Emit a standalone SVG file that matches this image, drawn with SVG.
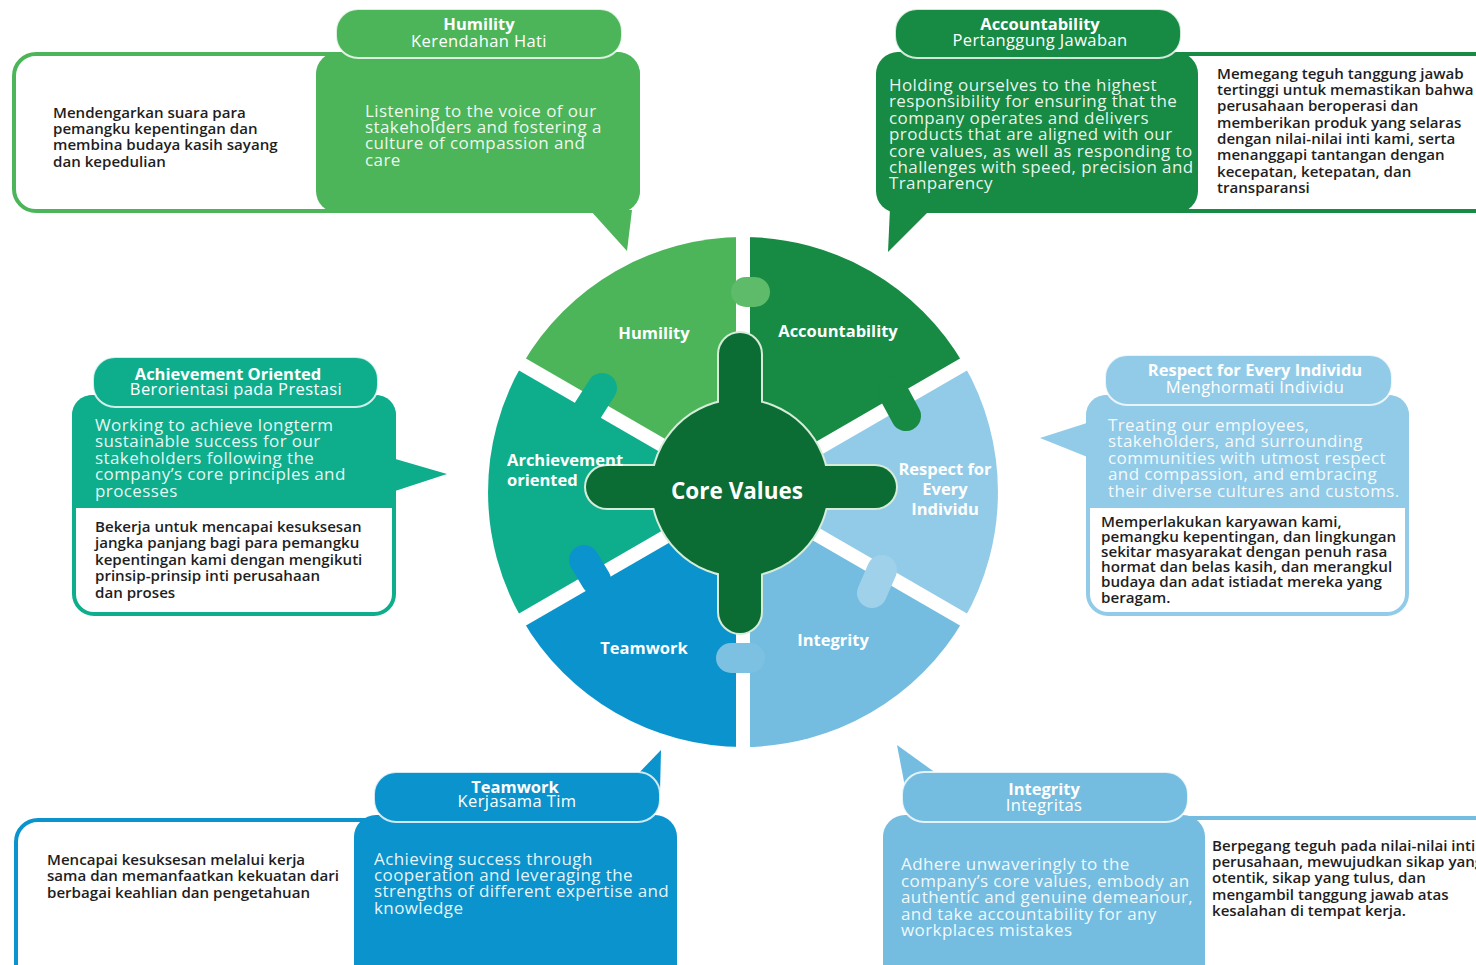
<svg xmlns="http://www.w3.org/2000/svg" width="1476" height="965" viewBox="0 0 1476 965">
<style>
.en{font-family:"Open Sans",sans-serif;font-size:17px;letter-spacing:0.4px;fill:#ffffff;fill-opacity:0.92}
.id{font-family:"Open Sans",sans-serif;font-size:15.1px;font-weight:600;fill:#1e1e1e}
.t1{font-family:"Open Sans",sans-serif;font-size:16.5px;font-weight:700;fill:#ffffff;text-anchor:middle}
.t2{font-family:"Open Sans",sans-serif;font-size:16.5px;letter-spacing:0.4px;fill:#ffffff;text-anchor:middle}
.seg{font-family:"Open Sans",sans-serif;font-size:16.5px;font-weight:700;fill:#ffffff}
.tab{stroke:#ffffff;stroke-width:2;stroke-opacity:0.8}
.gap{stroke:#ffffff;stroke-width:14}
.tb{stroke-width:30;stroke-linecap:round;fill:none}
</style>

<!-- Wheel -->
<g id="wheel">
  <g id="seg-accountability"><path d="M743 492 L743 237 A255 255 0 0 1 963.8 364.5 Z" fill="#178a43"/></g>
  <g id="seg-respect"><path d="M743 492 L963.8 364.5 A255 255 0 0 1 963.8 619.5 Z" fill="#92cbe8"/></g>
  <g id="seg-integrity"><path d="M743 492 L963.8 619.5 A255 255 0 0 1 743 747 Z" fill="#74bde0"/></g>
  <g id="seg-teamwork"><path d="M743 492 L743 747 A255 255 0 0 1 522.2 619.5 Z" fill="#0a93cc"/></g>
  <g id="seg-achievement"><path d="M743 492 L522.2 619.5 A255 255 0 0 1 522.2 364.5 Z" fill="#0eae8d"/></g>
  <g id="seg-humility"><path d="M743 492 L522.2 364.5 A255 255 0 0 1 743 237 Z" fill="#4cb55a"/></g>
  <g id="gaps">
    <line class="gap" x1="743" y1="492" x2="743" y2="230"/>
    <line class="gap" x1="743" y1="492" x2="743" y2="755"/>
    <line class="gap" x1="743" y1="492" x2="513" y2="359"/>
    <line class="gap" x1="743" y1="492" x2="513" y2="625"/>
    <line class="gap" x1="743" y1="492" x2="973" y2="359"/>
    <line class="gap" x1="743" y1="492" x2="973" y2="625"/>
  </g>
  <g id="tabs">
    <line class="tb" x1="746" y1="292" x2="755" y2="292" stroke="#5dbb69"/>
    <line class="tb" x1="588" y1="410" x2="602" y2="388" stroke="#0eae8d"/>
    <line class="tb" x1="893" y1="392" x2="906" y2="416" stroke="#178a43"/>
    <line class="tb" x1="596" y1="580" x2="584" y2="560" stroke="#0a93cc"/>
    <line class="tb" x1="882" y1="570" x2="872" y2="593" stroke="#9fd1ea"/>
    <line class="tb" x1="750" y1="658" x2="731" y2="658" stroke="#7cc1e2"/>
  </g>
  <g id="core">
    <g fill="none" stroke="#d6ecd9" stroke-width="4">
      <circle cx="740" cy="488" r="88"/>
      <rect x="719" y="333" width="42" height="300" rx="21"/>
      <rect x="586" y="466" width="310" height="42" rx="21"/>
    </g>
    <g fill="#0b6d33">
      <circle cx="740" cy="488" r="88"/>
      <rect x="719" y="333" width="42" height="300" rx="21"/>
      <rect x="586" y="466" width="310" height="42" rx="21"/>
    </g>
    <text x="737" y="499" font-family="Open Sans, sans-serif" font-size="22.5" font-weight="700" fill="#ffffff" text-anchor="middle">Core Values</text>
  </g>
  <g id="seg-labels">
    <text class="seg" x="654" y="339" text-anchor="middle">Humility</text>
    <text class="seg" x="838" y="337" text-anchor="middle">Accountability</text>
    <text class="seg" x="507" y="466">Archievement</text>
    <text class="seg" x="507" y="486">oriented</text>
    <text class="seg" x="945" y="475" text-anchor="middle">Respect for</text>
    <text class="seg" x="945" y="495" text-anchor="middle">Every</text>
    <text class="seg" x="945" y="515" text-anchor="middle">Individu</text>
    <text class="seg" x="644" y="654" text-anchor="middle">Teamwork</text>
    <text class="seg" x="833" y="646" text-anchor="middle">Integrity</text>
  </g>
</g>

<!-- Humility callout -->
<g id="callout-humility">
  <rect x="14" y="54" width="624" height="157" rx="22" fill="#ffffff" stroke="#4cb55a" stroke-width="4"/>
  <rect x="316" y="52" width="324" height="161" rx="22" fill="#4cb55a"/>
  <polygon points="590,210 632,210 627,251" fill="#4cb55a"/>
  <rect class="tab" x="336" y="9" width="286" height="49" rx="22" fill="#4cb55a"/>
  <text class="t1" x="479" y="30">Humility</text>
  <text class="t2" x="479" y="47">Kerendahan Hati</text>
  <text class="en" x="365" y="117">Listening to the voice of our</text>
  <text class="en" x="365" y="133">stakeholders and fostering a</text>
  <text class="en" x="365" y="149">culture of compassion and</text>
  <text class="en" x="365" y="166">care</text>
  <text class="id" x="53" y="118">Mendengarkan suara para</text>
  <text class="id" x="53" y="134">pemangku kepentingan dan</text>
  <text class="id" x="53" y="150">membina budaya kasih sayang</text>
  <text class="id" x="53" y="167">dan kepedulian</text>
</g>

<!-- Accountability callout -->
<g id="callout-accountability">
  <rect x="880" y="54" width="620" height="157" rx="22" fill="#ffffff" stroke="#178a43" stroke-width="4"/>
  <rect x="876" y="52" width="322" height="161" rx="22" fill="#178a43"/>
  <polygon points="890,208 932,208 888,252" fill="#178a43"/>
  <rect class="tab" x="895" y="9" width="286" height="49" rx="22" fill="#178a43"/>
  <text class="t1" x="1040" y="30">Accountability</text>
  <text class="t2" x="1040" y="46">Pertanggung Jawaban</text>
  <text class="en" x="889" y="91">Holding ourselves to the highest</text>
  <text class="en" x="889" y="107">responsibility for ensuring that the</text>
  <text class="en" x="889" y="124">company operates and delivers</text>
  <text class="en" x="889" y="140">products that are aligned with our</text>
  <text class="en" x="889" y="157">core values, as well as responding to</text>
  <text class="en" x="889" y="173">challenges with speed, precision and</text>
  <text class="en" x="889" y="189">Tranparency</text>
  <text class="id" x="1217" y="79">Memegang teguh tanggung jawab</text>
  <text class="id" x="1217" y="95">tertinggi untuk memastikan bahwa</text>
  <text class="id" x="1217" y="111">perusahaan beroperasi dan</text>
  <text class="id" x="1217" y="128">memberikan produk yang selaras</text>
  <text class="id" x="1217" y="144">dengan nilai-nilai inti kami, serta</text>
  <text class="id" x="1217" y="160">menanggapi tantangan dengan</text>
  <text class="id" x="1217" y="177">kecepatan, ketepatan, dan</text>
  <text class="id" x="1217" y="193">transparansi</text>
</g>

<!-- Achievement callout -->
<g id="callout-achievement">
  <rect x="74" y="397" width="320" height="217" rx="20" fill="#ffffff" stroke="#0eae8d" stroke-width="4"/>
  <path d="M92 395 H376 A20 20 0 0 1 396 415 V508 H72 V415 A20 20 0 0 1 92 395 Z" fill="#0eae8d"/>
  <polygon points="392,458 392,492 447,474" fill="#0eae8d"/>
  <rect class="tab" x="93" y="357" width="285" height="50" rx="22" fill="#0eae8d"/>
  <text class="t1" x="228" y="380">Achievement Oriented</text>
  <text class="t2" x="236" y="395">Berorientasi pada Prestasi</text>
  <text class="en" x="95" y="431">Working to achieve longterm</text>
  <text class="en" x="95" y="447">sustainable success for our</text>
  <text class="en" x="95" y="464">stakeholders following the</text>
  <text class="en" x="95" y="480">company’s core principles and</text>
  <text class="en" x="95" y="497">processes</text>
  <text class="id" x="95" y="532">Bekerja untuk mencapai kesuksesan</text>
  <text class="id" x="95" y="548">jangka panjang bagi para pemangku</text>
  <text class="id" x="95" y="565">kepentingan kami dengan mengikuti</text>
  <text class="id" x="95" y="581">prinsip-prinsip inti perusahaan</text>
  <text class="id" x="95" y="598">dan proses</text>
</g>

<!-- Respect callout -->
<g id="callout-respect">
  <rect x="1088" y="397" width="319" height="217" rx="20" fill="#ffffff" stroke="#92cbe8" stroke-width="4"/>
  <path d="M1106 395 H1389 A20 20 0 0 1 1409 415 V508 H1086 V415 A20 20 0 0 1 1106 395 Z" fill="#92cbe8"/>
  <polygon points="1090,422 1090,458 1040,438" fill="#92cbe8"/>
  <rect class="tab" x="1105" y="355" width="287" height="50" rx="22" fill="#92cbe8"/>
  <text class="t1" x="1255" y="376">Respect for Every Individu</text>
  <text class="t2" x="1255" y="393">Menghormati Individu</text>
  <text class="en" x="1108" y="431">Treating our employees,</text>
  <text class="en" x="1108" y="447">stakeholders, and surrounding</text>
  <text class="en" x="1108" y="464">communities with utmost respect</text>
  <text class="en" x="1108" y="480">and compassion, and embracing</text>
  <text class="en" x="1108" y="497">their diverse cultures and customs.</text>
  <text class="id" x="1101" y="527" style="font-size:15.2px">Memperlakukan karyawan kami,</text>
  <text class="id" x="1101" y="542" style="font-size:15.2px">pemangku kepentingan, dan lingkungan</text>
  <text class="id" x="1101" y="557" style="font-size:15.2px">sekitar masyarakat dengan penuh rasa</text>
  <text class="id" x="1101" y="572" style="font-size:15.2px">hormat dan belas kasih, dan merangkul</text>
  <text class="id" x="1101" y="587" style="font-size:15.2px">budaya dan adat istiadat mereka yang</text>
  <text class="id" x="1101" y="603" style="font-size:15.2px">beragam.</text>
</g>

<!-- Teamwork callout -->
<g id="callout-teamwork">
  <rect x="16" y="820" width="658" height="170" rx="22" fill="#ffffff" stroke="#0a93cc" stroke-width="4"/>
  <rect x="354" y="815" width="323" height="175" rx="22" fill="#0a93cc"/>
  <polygon points="634,778 660,792 661,750" fill="#0a93cc"/>
  <rect class="tab" x="374" y="772" width="286" height="50" rx="22" fill="#0a93cc"/>
  <text class="t1" x="515" y="793">Teamwork</text>
  <text class="t2" x="517" y="807">Kerjasama Tim</text>
  <text class="en" x="374" y="865">Achieving success through</text>
  <text class="en" x="374" y="881">cooperation and leveraging the</text>
  <text class="en" x="374" y="897">strengths of different expertise and</text>
  <text class="en" x="374" y="914">knowledge</text>
  <text class="id" x="47" y="865">Mencapai kesuksesan melalui kerja</text>
  <text class="id" x="47" y="881">sama dan memanfaatkan kekuatan dari</text>
  <text class="id" x="47" y="898">berbagai keahlian dan pengetahuan</text>
</g>

<!-- Integrity callout -->
<g id="callout-integrity">
  <rect x="888" y="818" width="620" height="170" rx="22" fill="#ffffff" stroke="#74bde0" stroke-width="4"/>
  <rect x="883" y="815" width="322" height="175" rx="22" fill="#74bde0"/>
  <polygon points="897,745 906,792 940,776" fill="#74bde0"/>
  <rect class="tab" x="902" y="772" width="286" height="50" rx="22" fill="#74bde0"/>
  <text class="t1" x="1044" y="795">Integrity</text>
  <text class="t2" x="1044" y="811">Integritas</text>
  <text class="en" x="901" y="870">Adhere unwaveringly to the</text>
  <text class="en" x="901" y="887">company’s core values, embody an</text>
  <text class="en" x="901" y="903">authentic and genuine demeanour,</text>
  <text class="en" x="901" y="920">and take accountability for any</text>
  <text class="en" x="901" y="936">workplaces mistakes</text>
  <text class="id" x="1212" y="851">Berpegang teguh pada nilai-nilai inti</text>
  <text class="id" x="1212" y="867">perusahaan, mewujudkan sikap yang</text>
  <text class="id" x="1212" y="883">otentik, sikap yang tulus, dan</text>
  <text class="id" x="1212" y="900">mengambil tanggung jawab atas</text>
  <text class="id" x="1212" y="916">kesalahan di tempat kerja.</text>
</g>
</svg>
